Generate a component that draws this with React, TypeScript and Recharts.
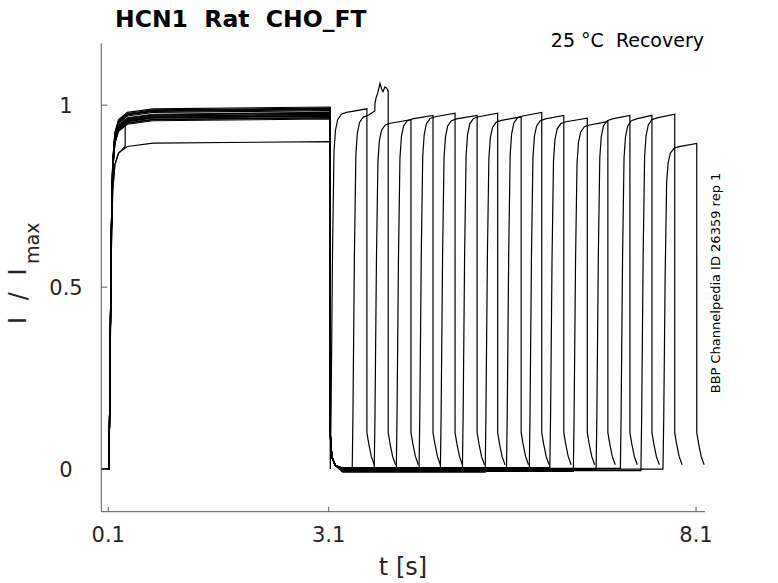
import { LineChart, Line, XAxis, YAxis } from "recharts";

// HCN1 recovery protocol: 16 sweeps, conditioning pulse then a test pulse after a growing gap.
const T_START = 0.01;
const PULSE1_ON = 0.11;
const PULSE1_OFF = 3.12;

// shape of the first activation (offset from onset in s, fraction of plateau)
const RISE1_DT = [0, 0.015, 0.03, 0.05, 0.08, 0.13, 0.25, 0.6];
const RISE1_FR = [0, 0.3, 0.65, 0.85, 0.93, 0.965, 0.985, 0.995];

// deactivation tail after the conditioning pulse
const DEACT_DT = [0, 0.01, 0.03, 0.07, 0.17];
const DEACT_V = [0.11, 0.06, 0.03, 0.01, 0];

// shape of the test-pulse activation
const RISE2_DT = [0, 0.01, 0.03, 0.05, 0.07, 0.1, 0.15, 0.22];
const RISE2_FR = [0, 0.15, 0.6, 0.88, 0.94, 0.97, 0.985, 0.99];

// tail after the test pulse
const TAIL_DT = [0, 0.025, 0.06, 0.1];
const TAIL_V = [0.1, 0.07, 0.035, 0.012];

const ONSET2 = [3.122, 3.42, 3.72, 4.02, 4.33, 4.62, 4.92, 5.23, 5.52, 5.83, 6.11, 6.43, 6.74, 7.07, 7.35, 7.65];
const OFF2 = [3.62, 3.91, 4.22, 4.52, 4.82, 5.12, 5.4, 5.72, 6.0, 6.3, 6.62, 6.9, 7.2, 7.5, 7.81, 8.11];
const LEVEL1 = [0.995, 0.985, 0.965, 0.975, 0.99, 0.97, 0.98, 0.962, 0.988, 0.975, 0.966, 0.97, 0.978, 0.992, 0.972, 0.9];
const LEVEL2 = [0.99, 0.982, 0.96, 0.972, 0.978, 0.972, 0.978, 0.968, 0.98, 0.972, 0.964, 0.955, 0.972, 0.972, 0.975, 0.895];
const BASE = [0.004, -0.002, 0.002, -0.006, 0, -0.004, 0.003, -0.008, 0.001, -0.003, 0.004, -0.006, -0.001, 0.002, -0.004, 0];

// sweep 2 has a noisy bump just before the end of its test pulse
const SPIKE_TRACE = 1;
const SPIKE_T = [3.728, 3.73, 3.745, 3.77, 3.798, 3.82, 3.839, 3.865, 3.889, 3.905];
const SPIKE_V = [0.984, 1.005, 1.02, 1.035, 1.06, 1.045, 1.037, 1.05, 1.047, 1.04];

// sweep 15 starts its first plateau low and jumps up
const GLITCH_TRACE = 14;
const GLITCH_T = 0.33;
const GLITCH_LEVEL = 0.9;

const X_TICKS = [0.1, 3.1, 8.1];
const Y_TICKS = [0, 0.5, 1];

type Pt = { t: number; v: number };

function buildTrace(i: number): Pt[] {
  const pts: Pt[] = [];
  const l1 = LEVEL1[i];
  const base = BASE[i];
  pts.push({ t: T_START, v: 0 }, { t: PULSE1_ON, v: 0 });
  RISE1_DT.forEach((dt, k) => {
    const t = PULSE1_ON + dt;
    const lvl = i === GLITCH_TRACE && t < GLITCH_T ? GLITCH_LEVEL : l1;
    pts.push({ t, v: RISE1_FR[k] * lvl });
  });
  if (i === GLITCH_TRACE) {
    pts.push({ t: GLITCH_T, v: GLITCH_LEVEL * 0.985 }, { t: GLITCH_T, v: l1 * 0.985 });
  }
  pts.push({ t: PULSE1_OFF, v: l1 });
  const on2 = ONSET2[i];
  DEACT_DT.forEach((dt, k) => {
    const t = PULSE1_OFF + dt;
    if (t < on2) pts.push({ t, v: k === DEACT_DT.length - 1 ? base : DEACT_V[k] });
  });
  const l2 = LEVEL2[i];
  RISE2_DT.forEach((dt, k) => {
    pts.push({ t: on2 + dt, v: k === 0 && on2 > PULSE1_OFF + 0.17 ? base : RISE2_FR[k] * l2 });
  });
  let endV = l2;
  if (i === SPIKE_TRACE) {
    SPIKE_T.forEach((t, k) => pts.push({ t, v: SPIKE_V[k] }));
    endV = SPIKE_V[SPIKE_V.length - 1];
  }
  pts.push({ t: OFF2[i], v: endV });
  TAIL_DT.forEach((dt, k) => pts.push({ t: OFF2[i] + dt, v: TAIL_V[k] }));
  return pts.sort((a, b) => a.t - b.t);
}

const TRACES = ONSET2.map((_, i) => buildTrace(i));

const FONT = "DejaVu Sans";
const INK = "#262626";
const AXIS = "#5a5a5a";

const XTick = (props: any) => {
  const { x, y, payload } = props;
  return (
    <g>
      <line x1={x} x2={x} y1={y} y2={y - 5} stroke={AXIS} strokeWidth={1} />
      <text x={x} y={y + 30.5} textAnchor="middle" fontSize={21} fontFamily={FONT} fill={INK}>
        {payload.value}
      </text>
    </g>
  );
};

const YTick = (props: any) => {
  const { x, y, payload } = props;
  return (
    <g>
      <line x1={x} x2={x + 6} y1={y} y2={y} stroke={AXIS} strokeWidth={1} />
      <text x={66} y={y + 7.5} textAnchor="middle" fontSize={21} fontFamily={FONT} fill={INK}>
        {payload.value}
      </text>
    </g>
  );
};

export default function App() {
  return (
    <div style={{ position: "absolute", left: 0, top: 0, width: 778, height: 583, background: "#fff" }}>
      <LineChart width={778} height={583} margin={{ top: 43.3, right: 73, bottom: 31.3, left: 41.3 }}>
        <XAxis
          dataKey="t"
          type="number"
          domain={[0.005, 8.222]}
          allowDataOverflow
          ticks={X_TICKS}
          tick={<XTick />}
          tickSize={0}
          tickMargin={0}
          tickLine={false}
          height={40}
          stroke={AXIS}
        />
        <YAxis
          type="number"
          domain={[-0.117, 1.17]}
          allowDataOverflow
          ticks={Y_TICKS}
          tick={<YTick />}
          tickSize={0}
          tickMargin={0}
          tickLine={false}
          width={60}
          stroke={AXIS}
        />
        {TRACES.map((d, i) => (
          <Line
            key={i}
            data={d}
            dataKey="v"
            type="linear"
            stroke="#000"
            strokeWidth={1.2}
            dot={false}
            activeDot={false}
            isAnimationActive={false}
          />
        ))}
      </LineChart>
      <svg width={778} height={583} style={{ position: "absolute", left: 0, top: 0, pointerEvents: "none" }}>
        <text x={115} y={27} fontSize={23.5} fontWeight="bold" fontFamily={FONT} fill="#000" style={{ whiteSpace: "pre" }}>
          {"HCN1  Rat  CHO_FT"}
        </text>
        <text x={704} y={47} textAnchor="end" fontSize={19} fontFamily={FONT} fill="#000" style={{ whiteSpace: "pre" }}>
          {"25 °C  Recovery"}
        </text>
        <text x={403} y={575} textAnchor="middle" fontSize={24} fontFamily={FONT} fill={INK}>
          t [s]
        </text>
        <text transform="translate(25.5,324) rotate(-90)" fontSize={24} fontFamily={FONT} fill={INK}>
          <tspan letterSpacing={4.5}>I / I</tspan>
          <tspan fontSize={19} dy={13}>max</tspan>
        </text>
        <text transform="translate(720,283) rotate(-90)" textAnchor="middle" fontSize={13} fontFamily={FONT} fill="#000">
          BBP Channelpedia ID 26359 rep 1
        </text>
      </svg>
    </div>
  );
}
